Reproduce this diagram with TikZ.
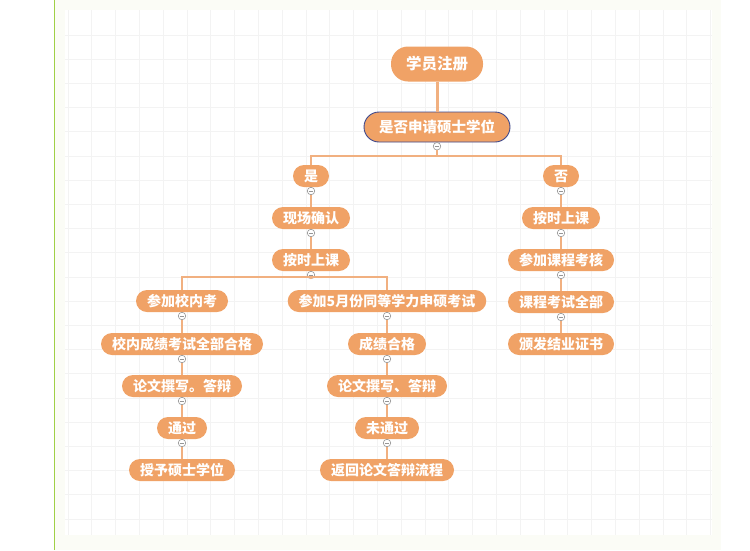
\documentclass[tikz,border=0pt]{standalone}
\usepackage{fontspec}
\setmainfont{Noto Sans CJK SC}

\definecolor{mapfill}{RGB}{240,162,102}
\definecolor{maplink}{RGB}{241,176,128}
\definecolor{mapedge}{RGB}{62,72,140}
\definecolor{foldgray}{RGB}{150,150,150}
\definecolor{pagebg}{RGB}{251,252,246}
\definecolor{gridcol}{RGB}{243,243,243}
\definecolor{sidebar}{RGB}{160,208,70}

\begin{document}
\begin{tikzpicture}[x=1pt,y=-1pt,font=\fontsize{14}{16}\selectfont\bfseries,
  topic/.style={fill=mapfill,text=white,rounded corners=11pt,minimum height=22pt,
    inner xsep=11pt,inner ysep=0pt},
  fold/.style={circle,draw=foldgray,fill=white,line width=.6pt,minimum size=7.5pt,
    inner sep=0pt,path picture={\draw[foldgray,line width=.6pt]
      ([xshift=-2.4pt]path picture bounding box.center) --
      ([xshift=2.4pt]path picture bounding box.center);}},
  link/.style={draw=maplink,line width=1.2pt}]
\path[use as bounding box] (0,0) rectangle (750,550);
% page and grid paper
\fill[white] (0,0) rectangle (750,550);
\fill[pagebg] (55,0) rectangle (721,550);
\fill[white] (65,10) rectangle (712,535);
\foreach \x in {68,91.8,...,712} \draw[gridcol,line width=.8pt] (\x,10) -- (\x,535);
\foreach \y in {35,59.2,...,535} \draw[gridcol,line width=.8pt] (65,\y) -- (712,\y);
\draw[sidebar,line width=1.5pt] (54.5,0) -- (54.5,550);

% root and question
\node[topic,rounded corners=17pt,minimum height=35pt,inner xsep=15pt,
  font=\fontsize{15.5}{17}\selectfont\bfseries] (reg) at (437,64) {学员注册};
\node[topic,draw=mapedge,line width=.9pt,rounded corners=15pt,minimum height=30pt,
  inner xsep=15pt,font=\fontsize{14.5}{16}\selectfont\bfseries] (ask) at (437,127) {是否申请硕士学位};
\draw[maplink,line width=3pt] (reg) -- (ask);

% yes branch
\node[topic] (yes) at (311,176) {是};
\node[topic] (site) at (311,218) {现场确认};
\node[topic] (classA) at (311,260) {按时上课};
\node[topic] (inner) at (182,301) {参加校内考};
\node[topic] (innerok) at (182,344) {校内成绩考试全部合格};
\node[topic] (thesisA) at (182,386) {论文撰写。答辩};
\node[topic] (pass) at (182,428) {通过};
\node[topic] (degree) at (182,470) {授予硕士学位};
\node[topic] (exam) at (387,301) {参加5月份同等学力申硕考试};
\node[topic] (examok) at (387,344) {成绩合格};
\node[topic] (thesisB) at (387,386) {论文撰写、答辩};
\node[topic] (fail) at (387,428) {未通过};
\node[topic] (back) at (387,470) {返回论文答辩流程};

% no branch
\node[topic] (no) at (561,176) {否};
\node[topic] (classB) at (561,218) {按时上课};
\node[topic] (course) at (561,260) {参加课程考核};
\node[topic] (courseok) at (561,302) {课程考试全部};
\node[topic] (cert) at (561,344) {颁发结业证书};

% fold buttons
\foreach \n in {ask,yes,site,classA,inner,innerok,thesisA,pass,exam,examok,thesisB,fail,no,classB,course,courseok}
  \node[fold] (f-\n) at ([yshift=-3.8pt]\n.south) {};

\coordinate (barAsk) at (437,156);
\coordinate (barClass) at (311,277);
\draw[link] (f-ask) -- (barAsk);
\draw[link] (barAsk) -| (yes);
\draw[link] (barAsk) -| (no);
\draw[link] (f-classA) -- (barClass);
\draw[link] (barClass) -| (inner);
\draw[link] (barClass) -| (exam);
\draw[link] (f-yes) -- (site);
\draw[link] (f-site) -- (classA);
\draw[link] (f-inner) -- (innerok);
\draw[link] (f-innerok) -- (thesisA);
\draw[link] (f-thesisA) -- (pass);
\draw[link] (f-pass) -- (degree);
\draw[link] (f-exam) -- (examok);
\draw[link] (f-examok) -- (thesisB);
\draw[link] (f-thesisB) -- (fail);
\draw[link] (f-fail) -- (back);
\draw[link] (f-no) -- (classB);
\draw[link] (f-classB) -- (course);
\draw[link] (f-course) -- (courseok);
\draw[link] (f-courseok) -- (cert);
\end{tikzpicture}
\end{document}
